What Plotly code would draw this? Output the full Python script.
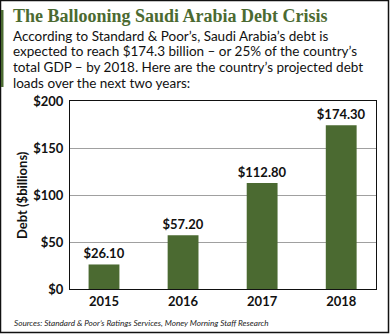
import plotly.graph_objects as go

years = ["2015", "2016", "2017", "2018"]
debt = [26.10, 57.20, 112.80, 174.30]
y_ticks = [0, 50, 100, 150, 200]
y_tick_labels = ["$0", "$50", "$100", "$150", "$200"]

title = "The Ballooning Saudi Arabia Debt Crisis"
body_lines = [
    "According to Standard &amp; Poor’s, Saudi Arabia’s debt is",
    "expected to reach $174.3 billion – or 25% of the country’s",
    "total GDP – by 2018. Here are the country’s projected debt",
    "loads over the next two years:",
]
source = "Sources: Standard &amp; Poor’s Ratings Services, Money Morning Staff Research"

W, H = 390, 334
L, R, T, B = 70, 14, 101, 45
pw, ph = W - L - R, H - T - B

def px(x):
    return (x - L) / pw

def py(y):
    return (H - B - y) / ph

green = "#4b6a31"
font = "Lato"

fig = go.Figure()
fig.add_trace(go.Bar(
    x=list(range(len(years))), y=debt, width=0.39,
    marker=dict(color=green, line=dict(width=0)),
    texttemplate="$%{y:.2f}", textposition="outside", constraintext="none",
    textfont=dict(family=font, size=13, color="#111111", weight="bold"),
    cliponaxis=False,
))

anns = []
anns.append(dict(text="<b>" + title + "</b>", x=px(11), y=py(16), xref="paper", yref="paper",
                 xanchor="left", yanchor="middle", showarrow=False,
                 font=dict(family="Liberation Serif", size=18, color=green)))
for i, line in enumerate(body_lines):
    anns.append(dict(text=line, x=px(11), y=py(35.5 + 15.7 * i), xref="paper", yref="paper",
                     xanchor="left", yanchor="middle", showarrow=False,
                     font=dict(family=font, size=13.5, color="#111111")))
anns.append(dict(text="<i>" + source + "</i>", x=px(12), y=py(323), xref="paper", yref="paper",
                 xanchor="left", yanchor="middle", showarrow=False,
                 font=dict(family=font, size=8.2, color="#222222")))
anns.append(dict(text="<b>Debt ($billions)</b>", x=px(22), y=py(195), xref="paper", yref="paper",
                 xanchor="center", yanchor="middle", showarrow=False, textangle=-90,
                 font=dict(family=font, size=13, color="#111111")))

shapes = [
    dict(type="rect", xref="paper", yref="paper", x0=px(0.5), x1=px(W - 1.5), y0=py(0.5), y1=py(H - 1.5),
         line=dict(color="#111111", width=1.5), layer="above"),
    dict(type="rect", xref="paper", yref="paper", x0=px(1), x1=px(3.5), y0=py(10), y1=py(87),
         line=dict(width=0), fillcolor=green, layer="above"),
]

fig.update_layout(
    width=W, height=H, margin=dict(l=L, r=R, t=T, b=B),
    paper_bgcolor="white", plot_bgcolor="white", showlegend=False,
    annotations=anns, shapes=shapes,
    xaxis=dict(range=[-0.43, 3.44], tickmode="array", tickvals=list(range(len(years))), ticktext=years,
               showgrid=False, zeroline=False, showline=True, linecolor="#111111", linewidth=1, mirror=True,
               ticks="", tickfont=dict(family=font, size=13, color="#111111", weight="bold"), fixedrange=True),
    yaxis=dict(range=[0, 200], tickmode="array", tickvals=y_ticks, ticktext=y_tick_labels,
               showgrid=True, gridcolor="#a0a0a0", gridwidth=1, zeroline=False,
               showline=True, linecolor="#111111", linewidth=1, mirror=True, ticks="", ticklen=0,
               ticklabelstandoff=3,
               tickfont=dict(family=font, size=13, color="#111111", weight="bold"), fixedrange=True),
    bargap=0.5,
)

fig.write_html("out.html", config={"displayModeBar": False})
